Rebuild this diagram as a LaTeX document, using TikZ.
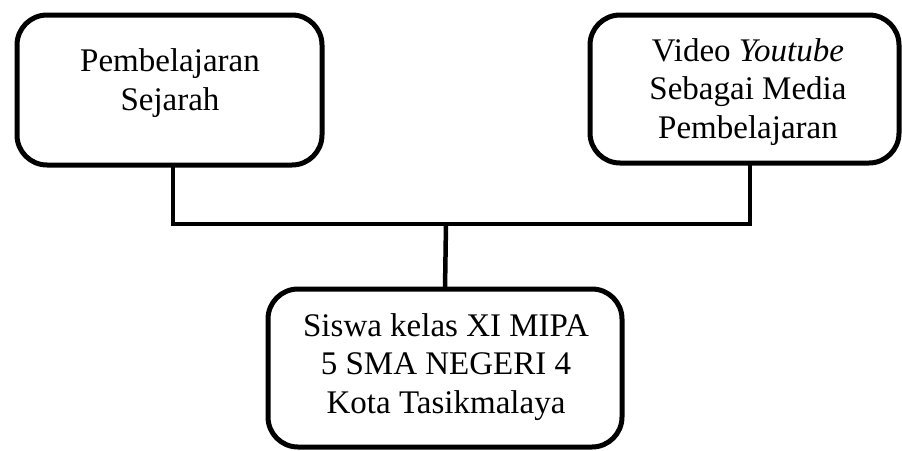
\documentclass[tikz,border=0pt]{standalone}
\usepackage{fontspec}
\setmainfont{Liberation Serif}
\begin{document}
\begin{tikzpicture}[x=1pt,y=-1pt,
  boxstyle/.style={draw=black, line width=5pt, rounded corners=30pt, inner sep=0pt, outer sep=0pt},
  txt/.style={align=center, font=\fontsize{33}{38.5}\selectfont, inner sep=0pt},
  conn/.style={draw=black, line width=4.5pt}]
\useasboundingbox (0,0) rectangle (902,450);
\node[boxstyle, minimum width=305pt, minimum height=150pt] (left) at (169.5,90) {};
\node[boxstyle, minimum width=309pt, minimum height=148pt] (right) at (744.5,89) {};
\node[boxstyle, minimum width=354pt, minimum height=158pt] (bottom) at (445,368) {};
\node[txt, anchor=base] (lt) at (170,110) {Pembelajaran\\Sejarah};
\node[txt, anchor=base] (rt) at (748,138) {Video \textit{Youtube}\\Sebagai Media\\Pembelajaran};
\node[txt, anchor=base] (bt) at (446,413) {Siswa kelas XI MIPA\\5 SMA NEGERI 4\\Kota Tasikmalaya};
\coordinate (jl) at (173,224);
\coordinate (jr) at (750,224);
\coordinate (jm) at (446,224);
\draw[conn] (left.south -| jl) -- (jl) -- (jr) -- (right.south -| jr);
\draw[conn] (jm) -- (bottom.north);
\end{tikzpicture}
\end{document}
